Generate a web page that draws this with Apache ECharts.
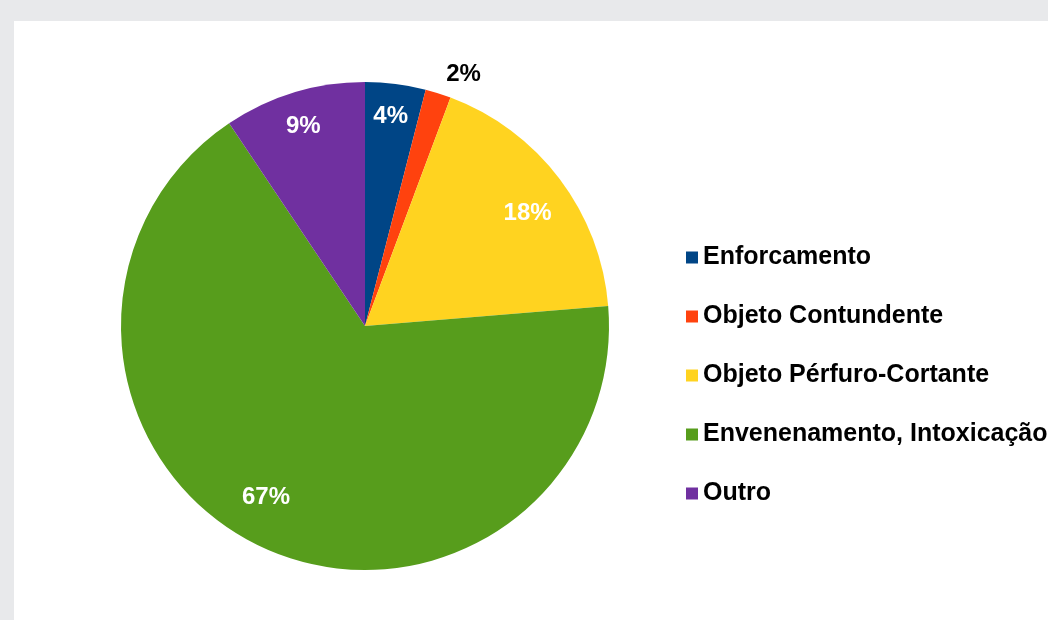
<!DOCTYPE html>
<html>
<head>
<meta charset="utf-8">
<script src="https://cdn.jsdelivr.net/npm/echarts@6/dist/echarts.min.js"></script>
<style>
  html, body { margin: 0; padding: 0; background: #e8e9eb; overflow: hidden; }
  #panel { position: absolute; left: 14px; top: 21px; width: 1034px; height: 599px; background: #fff; }
  #chart { position: absolute; left: 0; top: 0; width: 1048px; height: 620px; }
</style>
</head>
<body>
<div id="panel"></div>
<div id="chart"></div>
<script>
// categorias e percentuais
var categories = ['Enforcamento', 'Objeto Contundente', 'Objeto Pérfuro-Cortante', 'Envenenamento, Intoxicação', 'Outro']
var values = [4, 1.7, 18.0, 66.9, 9.4]
var colors = ['#004586', '#ff420e', '#ffd320', '#579d1c', '#7030a0']

// pequenos ajustes de posição dos rótulos
var labelOffsets = [[0, -6], [37, -56], [-1, 11], [-10, -13], [-2, -3]]

var chart = echarts.init(document.getElementById('chart'))

var pieData = categories.map(function (name, i) {
  return { name: name, value: values[i] }
})

// rótulos numa série transparente por cima, pra ficarem perto da borda
var labelData = categories.map(function (name, i) {
  var item = { name: name, value: values[i], label: { offset: labelOffsets[i] } }
  if (i === 1) {
    item.label.color = '#000'
  }
  return item
})

var option = {
  animation: false,
  color: colors,
  legend: {
    orient: 'vertical',
    left: 681,
    top: 240,
    itemWidth: 12,
    itemHeight: 12,
    itemGap: 34,
    itemStyle: { borderWidth: 0 },
    icon: 'rect',
    textStyle: {
      fontFamily: 'Liberation Sans, Arial, sans-serif',
      fontWeight: 'bold',
      fontSize: 25,
      lineHeight: 25,
      color: '#000',
      padding: [0, 0, 0, 0]
    },
    data: categories
  },
  series: [
    {
      name: 'pie',
      type: 'pie',
      center: [365, 326],
      radius: [0, 244],
      startAngle: 90,
      clockwise: true,
      label: { show: false },
      labelLine: { show: false },
      emphasis: { disabled: true },
      data: pieData
    },
    {
      name: 'labels',
      type: 'pie',
      silent: true,
      center: [365, 326],
      radius: [160, 244],
      startAngle: 90,
      clockwise: true,
      itemStyle: { color: 'transparent' },
      label: {
        show: true,
        position: 'inside',
        formatter: function (p) { return Math.round(p.value) + '%' },
        color: '#fff',
        fontFamily: 'Liberation Sans, Arial, sans-serif',
        fontWeight: 'bold',
        fontSize: 24
      },
      labelLine: { show: false },
      data: labelData
    }
  ]
}

chart.setOption(option)
</script>
</body>
</html>
